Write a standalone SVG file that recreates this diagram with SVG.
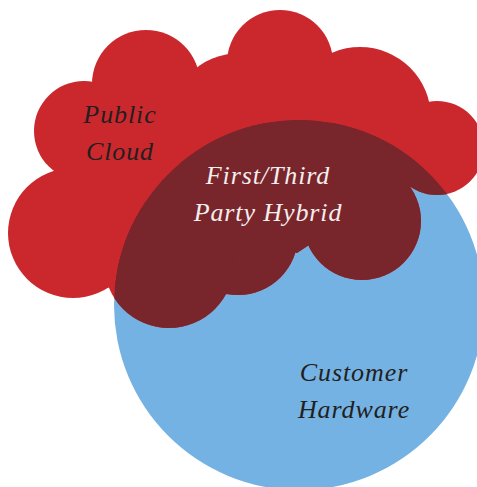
<svg xmlns="http://www.w3.org/2000/svg" width="477" height="487" viewBox="0 0 477 487">
  <style>
    text { font-family: "Liberation Serif", "Times New Roman", serif; font-style: italic; font-size: 26px; text-anchor: middle; letter-spacing: 0.9px; }
    .dark { fill: #231f20; }
    .light { fill: #f4eeee; }
  </style>
  <defs>
    <g id="cloud-shape">
      <circle cx="73" cy="233" r="65"/>
      <circle cx="84" cy="131" r="50"/>
      <circle cx="146" cy="84" r="54"/>
      <circle cx="240" cy="125" r="72"/>
      <circle cx="280" cy="63" r="53"/>
      <circle cx="360" cy="118" r="71"/>
      <circle cx="437" cy="148" r="47"/>
      <circle cx="362" cy="221" r="59"/>
      <circle cx="238" cy="235" r="60"/>
      <circle cx="169" cy="263" r="65"/>
      <polygon points="73,233 84,131 146,84 240,125 280,63 360,118 437,148 410,187 362,221 309,245 297,253 238,235 226,295 169,263 107,288"/>
    </g>
    <clipPath id="hardware-clip">
      <circle cx="299" cy="305" r="185"/>
    </clipPath>
  </defs>
  <g id="customer-hardware">
    <circle cx="299" cy="305" r="185" fill="#74b2e3"/>
  </g>
  <g id="public-cloud">
    <use href="#cloud-shape" fill="#cb282e"/>
  </g>
  <g id="hybrid">
    <g clip-path="url(#hardware-clip)">
      <use href="#cloud-shape" fill="#78262c"/>
    </g>
  </g>
  <g id="labels">
    <text class="dark" x="120" y="123">Public</text>
    <text class="dark" x="120" y="160">Cloud</text>
    <text class="light" x="268" y="184">First/Third</text>
    <text class="light" x="268" y="221">Party Hybrid</text>
    <text class="dark" x="354" y="381">Customer</text>
    <text class="dark" x="354" y="418">Hardware</text>
  </g>
  <g id="connectors"/>
</svg>
